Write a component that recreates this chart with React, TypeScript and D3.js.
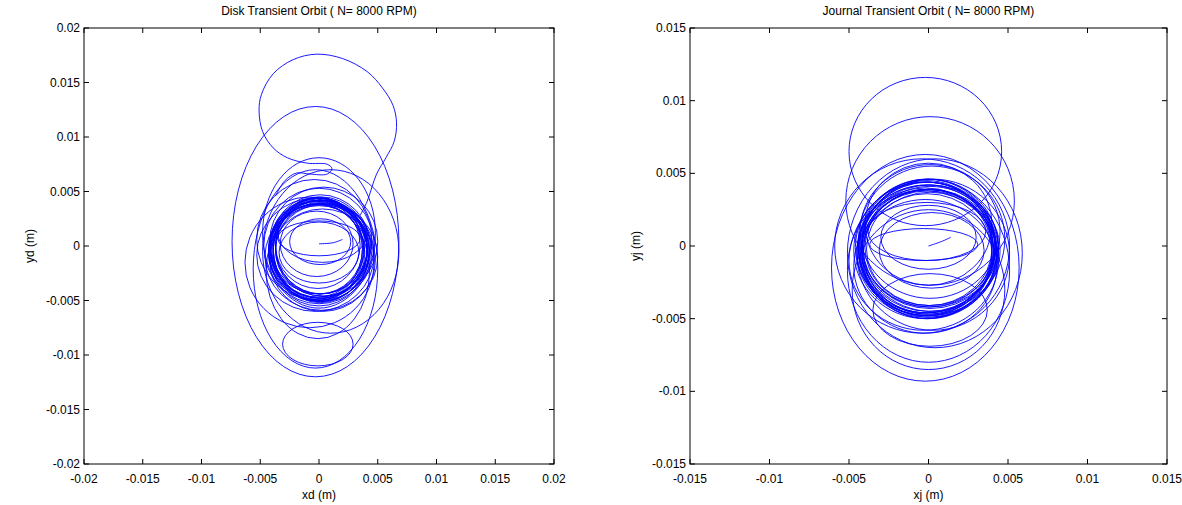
import React from 'react';
import * as d3 from 'd3';

const W = 1182;
const H = 505;

// orbit loops: [cx, cy, rx, ry] in metres
const diskRing = [
  [0.0000, -0.0002, 0.0041, 0.0046], [0.0001, -0.0004, 0.0040, 0.0044],
  [-0.0001, -0.0003, 0.0042, 0.0047], [0.0002, -0.0001, 0.0039, 0.0043],
  [0.0000, -0.0005, 0.0041, 0.0042], [-0.0002, -0.0002, 0.0040, 0.0045],
  [0.0001, 0.0000, 0.0038, 0.0044], [0.0000, -0.0006, 0.0043, 0.0045],
  [0.0002, -0.0003, 0.0041, 0.0048], [-0.0001, -0.0004, 0.0039, 0.0046],
  [0.0000, -0.0001, 0.0042, 0.0043], [0.0001, -0.0005, 0.0040, 0.0047],
  [-0.0002, -0.0006, 0.0041, 0.0044], [0.0001, -0.0002, 0.0043, 0.0049],
  [0.0000, -0.0003, 0.0037, 0.0041], [0.0003, -0.0004, 0.0040, 0.0042],
  [-0.0001, 0.0001, 0.0036, 0.0040], [0.0000, -0.0007, 0.0042, 0.0048],
  [0.0001, -0.0004, 0.0044, 0.0046], [-0.0001, -0.0002, 0.0038, 0.0047],
];
const diskMid = [
  [0.0000, 0.0000, 0.0047, 0.0053], [-0.0003, -0.0008, 0.0050, 0.0052],
  [0.0004, 0.0004, 0.0046, 0.0050], [0.0002, -0.0010, 0.0048, 0.0049],
  [-0.0004, 0.0006, 0.0049, 0.0055], [0.0003, -0.0013, 0.0045, 0.0047],
];
const diskInner = [
  [0.0000, 0.0007, 0.0035, 0.0016], [0.0001, 0.0004, 0.0026, 0.0021],
  [0.0003, 0.0012, 0.0038, 0.0027], [-0.0002, 0.0002, 0.0031, 0.0030],
  [0.0000, -0.0006, 0.0034, 0.0028],
];
const diskOuter = [
  [-0.0003, 0.0004, 0.0071, 0.0124], [-0.0003, -0.0021, 0.0053, 0.0091],
  [-0.0001, -0.0023, 0.0044, 0.0062], [-0.0001, -0.0090, 0.0030, 0.0020],
  [0.0000, 0.0012, 0.0048, 0.0069], [0.0010, -0.0005, 0.0058, 0.0075],
  [-0.0008, -0.0015, 0.0055, 0.0060],
];
// the first big swing above the cluster: [x, y]
const diskTopLoop = [
  [0.0035, 0.0028], [0.0041, 0.0041], [0.0049, 0.0066], [0.0057, 0.0081],
  [0.0064, 0.0096], [0.0066, 0.0113], [0.0063, 0.0129], [0.0054, 0.0145],
  [0.0041, 0.0160], [0.0020, 0.0172], [-0.0002, 0.0176], [-0.0022, 0.0171],
  [-0.0039, 0.0158], [-0.0049, 0.0139], [-0.0051, 0.0124], [-0.0048, 0.0105],
  [-0.0039, 0.0090], [-0.0027, 0.0081], [-0.0010, 0.0076], [0.0007, 0.0075],
  [0.0011, 0.0071], [0.0007, 0.0066], [-0.0008, 0.0066], [-0.0019, 0.0067],
  [-0.0029, 0.0060], [-0.0037, 0.0046],
];
const diskStart = [[0.0000, 0.0002], [0.0012, 0.0003], [0.0020, 0.0006]];

const journalRing = [
  [-0.0001, -0.0002, 0.0043, 0.0044], [0.0000, -0.0003, 0.0042, 0.0042],
  [-0.0002, -0.0001, 0.0044, 0.0045], [0.0000, -0.0004, 0.0041, 0.0043],
  [-0.0001, 0.0000, 0.0043, 0.0046], [0.0001, -0.0002, 0.0042, 0.0041],
  [-0.0001, -0.0005, 0.0044, 0.0044], [0.0000, -0.0001, 0.0040, 0.0040],
  [-0.0002, -0.0003, 0.0045, 0.0047], [0.0001, -0.0004, 0.0043, 0.0045],
  [0.0000, 0.0001, 0.0042, 0.0043], [-0.0001, -0.0006, 0.0041, 0.0042],
  [0.0000, -0.0002, 0.0044, 0.0048], [-0.0002, -0.0004, 0.0042, 0.0044],
  [0.0001, 0.0000, 0.0043, 0.0042], [0.0000, -0.0003, 0.0045, 0.0045],
  [-0.0001, -0.0001, 0.0041, 0.0046], [0.0000, -0.0005, 0.0043, 0.0043],
  [0.0001, -0.0002, 0.0040, 0.0039], [-0.0001, -0.0003, 0.0042, 0.0047],
];
const journalMid = [
  [0.0002, 0.0005, 0.0046, 0.0050], [-0.0003, -0.0010, 0.0047, 0.0048],
  [0.0001, 0.0010, 0.0044, 0.0046], [0.0003, -0.0006, 0.0048, 0.0052],
  [0.0000, 0.0015, 0.0040, 0.0042], [-0.0002, -0.0014, 0.0045, 0.0046],
];
const journalInner = [
  [-0.0003, 0.0001, 0.0034, 0.0011], [0.0001, -0.0044, 0.0036, 0.0025],
  [0.0000, 0.0006, 0.0030, 0.0022], [0.0002, -0.0003, 0.0033, 0.0026],
  [-0.0001, 0.0010, 0.0037, 0.0020],
];
const journalOuter = [
  [-0.0002, 0.0065, 0.0048, 0.0051], [0.0001, 0.0031, 0.0053, 0.0058],
  [-0.0002, -0.0015, 0.0059, 0.0078], [0.0000, -0.0017, 0.0051, 0.0063],
  [0.0004, -0.0005, 0.0055, 0.0065], [-0.0004, 0.0000, 0.0055, 0.0060],
  [0.0000, -0.0030, 0.0048, 0.0055],
];
const journalStart = [[0.0000, 0.0000], [0.0008, 0.0003], [0.0014, 0.0006]];

const diskTicks = ['-0.02', '-0.015', '-0.01', '-0.005', '0', '0.005', '0.01', '0.015', '0.02'];
const journalTicks = ['-0.015', '-0.01', '-0.005', '0', '0.005', '0.01', '0.015'];

const font = 'Arial, "Liberation Sans", Helvetica, sans-serif';
const blue = '#0000ff';

type Loop = number[];

function Panel(props: {
  left: number; right: number; top: number; bottom: number; lim: number;
  ticks: string[]; title: string; xLabel: string; yLabel: string;
  loops: Loop[]; paths: number[][][];
}) {
  const { left, right, top, bottom, lim, ticks, title, xLabel, yLabel, loops, paths } = props;
  const x = d3.scaleLinear().domain([-lim, lim]).range([left, right]);
  const y = d3.scaleLinear().domain([-lim, lim]).range([bottom, top]);
  const line = d3.line<number[]>().x(d => x(d[0])).y(d => y(d[1])).curve(d3.curveCatmullRom);
  const tl = 5;
  const cx = (left + right) / 2;
  const cy = (top + bottom) / 2;

  return (
    <g>
      <g fill="none" stroke={blue} strokeWidth={0.9}>
        {loops.map((d, i) => (
          <ellipse key={i} cx={x(d[0])} cy={y(d[1])} rx={x(d[2]) - x(0)} ry={y(0) - y(d[3])} />
        ))}
        {paths.map((p, i) => <path key={'p' + i} d={line(p) || ''} />)}
      </g>
      <rect x={left} y={top} width={right - left} height={bottom - top} fill="none" stroke="#000" strokeWidth={1} />
      {ticks.map(t => {
        const v = +t;
        return (
          <g key={t} stroke="#000" strokeWidth={1}>
            <line x1={x(v)} x2={x(v)} y1={bottom} y2={bottom - tl} />
            <line x1={x(v)} x2={x(v)} y1={top} y2={top + tl} />
            <line x1={left} x2={left + tl} y1={y(v)} y2={y(v)} />
            <line x1={right} x2={right - tl} y1={y(v)} y2={y(v)} />
          </g>
        );
      })}
      <g fontFamily={font} fontSize={12} fill="#000">
        {ticks.map(t => (
          <text key={'x' + t} x={x(+t)} y={bottom + 19} textAnchor="middle">{t}</text>
        ))}
        {ticks.map(t => (
          <text key={'y' + t} x={left - 4} y={y(+t) + 4} textAnchor="end">{t}</text>
        ))}
        <text x={cx} y={15} textAnchor="middle">{title}</text>
        <text x={cx} y={bottom + 35} textAnchor="middle">{xLabel}</text>
        <text transform={`translate(${left - 50},${cy}) rotate(-90)`} textAnchor="middle">{yLabel}</text>
      </g>
    </g>
  );
}

export default function App() {
  return (
    <svg width={W} height={H} style={{ position: 'absolute', left: 0, top: 0, background: '#fff' }}>
      <rect width={W} height={H} fill="#fff" />
      <Panel
        left={84} right={554} top={28} bottom={464} lim={0.02}
        ticks={diskTicks}
        title="Disk Transient Orbit ( N= 8000 RPM)"
        xLabel="xd (m)" yLabel="yd (m)"
        loops={[...diskOuter, ...diskMid, ...diskRing, ...diskInner]}
        paths={[diskTopLoop, diskStart]}
      />
      <Panel
        left={690} right={1167} top={28} bottom={464} lim={0.015}
        ticks={journalTicks}
        title="Journal Transient Orbit ( N= 8000 RPM)"
        xLabel="xj (m)" yLabel="yj (m)"
        loops={[...journalOuter, ...journalMid, ...journalRing, ...journalInner]}
        paths={[journalStart]}
      />
    </svg>
  );
}
